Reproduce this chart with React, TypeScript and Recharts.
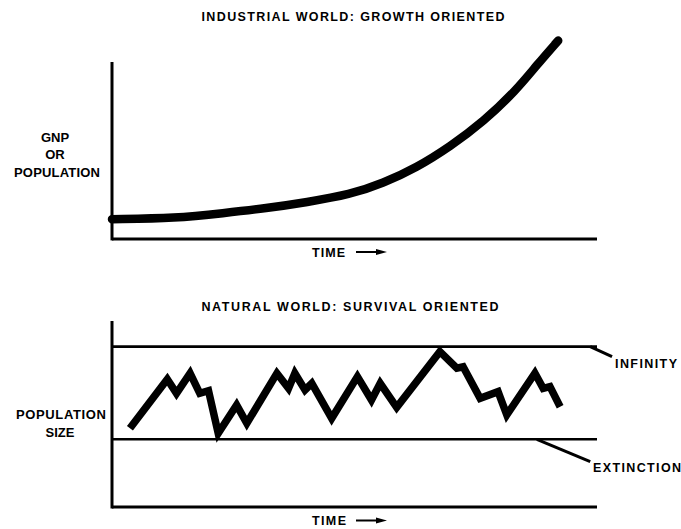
import React from 'react';
import { LineChart, Line, XAxis, YAxis, ReferenceLine } from 'recharts';

// ---- Top panel: industrial world (growth oriented) ----
const growthTime = [0, 13.3, 22.9, 31.9, 40.1, 49.1, 55.9, 62.8, 69.7, 76.6, 83.4, 87.6, 92.0];
const growthValue = [9.9, 10.4, 12.9, 15.4, 18.4, 22.2, 27.9, 35.7, 46.2, 58.7, 74.5, 87.0, 99.2];
const growthAxisTop = 88.5;

// ---- Bottom panel: natural world (survival oriented) ----
const naturalTime = [3.7, 11.4, 13.3, 16.1, 18.1, 19.9, 21.9, 25.7, 27.8, 34.0, 36.4, 37.7, 39.8, 41.2, 45.3, 50.6, 53.5, 55.3, 58.7, 67.6, 71.1, 72.4, 75.9, 79.6, 81.4, 87.2, 88.9, 90.3, 92.4];
const naturalValue = [42.3, 68.7, 61.1, 71.9, 61.1, 62.5, 39.6, 54.8, 45.0, 71.9, 63.8, 71.9, 62.9, 66.5, 47.7, 70.1, 57.5, 66.5, 53.6, 83.5, 74.6, 75.4, 58.4, 62.0, 49.5, 71.9, 63.8, 64.7, 53.9];
const infinityLevel = 86.2;
const extinctionLevel = 36.4;

// ---- Text labels ----
const topTitle = 'INDUSTRIAL WORLD: GROWTH ORIENTED';
const bottomTitle = 'NATURAL WORLD: SURVIVAL ORIENTED';
const topYLabel = ['GNP', 'OR', 'POPULATION'];
const bottomYLabel = ['POPULATION', 'SIZE'];
const xLabel = 'TIME';
const infinityLabel = 'INFINITY';
const extinctionLabel = 'EXTINCTION';

const growthData = growthTime.map((t, i) => ({ t, v: growthValue[i] }));
const naturalData = naturalTime.map((t, i) => ({ t, v: naturalValue[i] }));

const W = 681;
const H = 529;
const FONT = '"Liberation Sans", Arial, Helvetica, sans-serif';

const layer: React.CSSProperties = { position: 'absolute', left: 0, top: 0 };

function Arrow({ x, y }: { x: number; y: number }) {
  return (
    <g>
      <line x1={x} y1={y} x2={x + 24} y2={y} stroke="#000" strokeWidth={2} />
      <polygon points={`${x + 20},${y - 3} ${x + 31},${y} ${x + 20},${y + 3}`} fill="#000" />
    </g>
  );
}

export default function App() {
  const txt = { fontFamily: FONT, fontWeight: 700, fill: '#000' } as const;
  return (
    <div style={{ position: 'fixed', left: 0, top: 0, width: W, height: H, background: '#fff' }}>
      <div style={layer}>
        <LineChart width={W} height={H} data={growthData} margin={{ top: 39, right: 84, bottom: 290, left: 112 }}>
          <XAxis type="number" dataKey="t" domain={[0, 100]} hide />
          <YAxis type="number" domain={[0, 100]} hide />
          <ReferenceLine segment={[{ x: 0, y: 0 }, { x: 100, y: 0 }]} stroke="#000" strokeWidth={3} ifOverflow="visible" />
          <ReferenceLine segment={[{ x: 0, y: -0.7 }, { x: 0, y: growthAxisTop }]} stroke="#000" strokeWidth={3} ifOverflow="visible" />
          <Line type="basis" dataKey="v" stroke="#000" strokeWidth={8.5} strokeLinecap="round" dot={false}
            isAnimationActive={false} />
        </LineChart>
      </div>
      <div style={layer}>
        <LineChart width={W} height={H} data={naturalData} margin={{ top: 321, right: 84, bottom: 22, left: 112 }}>
          <XAxis type="number" dataKey="t" domain={[0, 100]} hide />
          <YAxis type="number" domain={[0, 100]} hide />
          <ReferenceLine segment={[{ x: 0, y: 0 }, { x: 100, y: 0 }]} stroke="#000" strokeWidth={3} ifOverflow="visible" />
          <ReferenceLine segment={[{ x: 0, y: -0.8 }, { x: 0, y: 100 }]} stroke="#000" strokeWidth={3} ifOverflow="visible" />
          <ReferenceLine y={infinityLevel} stroke="#000" strokeWidth={2.6} />
          <ReferenceLine y={extinctionLevel} stroke="#000" strokeWidth={2.6} />
          <ReferenceLine segment={[{ x: 98.6, y: infinityLevel }, { x: 103.1, y: 80.8 }]} stroke="#000"
            strokeWidth={3} ifOverflow="visible" />
          <ReferenceLine segment={[{ x: 87.6, y: extinctionLevel }, { x: 98.6, y: 24.4 }]} stroke="#000"
            strokeWidth={3} ifOverflow="visible" />
          <Line type="linear" dataKey="v" stroke="#000" strokeWidth={7.5} strokeLinejoin="miter" dot={false}
            isAnimationActive={false} />
        </LineChart>
      </div>
      <svg width={W} height={H} style={{ ...layer, pointerEvents: 'none' }}>
        <text x={353} y={21} textAnchor="middle" fontSize={12.5} textLength={303} lengthAdjust="spacing" {...txt}>{topTitle}</text>
        <text x={55} y={141.5} textAnchor="middle" fontSize={13} {...txt}>{topYLabel[0]}</text>
        <text x={55} y={159} textAnchor="middle" fontSize={13} {...txt}>{topYLabel[1]}</text>
        <text x={57} y={176.5} textAnchor="middle" fontSize={13} textLength={86} lengthAdjust="spacing" {...txt}>{topYLabel[2]}</text>
        <text x={328.5} y={256.5} textAnchor="middle" fontSize={12.5} textLength={33} lengthAdjust="spacing" {...txt}>{xLabel}</text>
        <Arrow x={356} y={252} />

        <text x={350} y={310.5} textAnchor="middle" fontSize={12.5} textLength={297} lengthAdjust="spacing" {...txt}>{bottomTitle}</text>
        <text x={61} y={418.5} textAnchor="middle" fontSize={13} textLength={90} lengthAdjust="spacing" {...txt}>{bottomYLabel[0]}</text>
        <text x={60} y={436.5} textAnchor="middle" fontSize={13} {...txt}>{bottomYLabel[1]}</text>
        <text x={646} y={367.5} textAnchor="middle" fontSize={12.5} textLength={62} lengthAdjust="spacing" {...txt}>{infinityLabel}</text>
        <text x={637} y={471.5} textAnchor="middle" fontSize={12.5} textLength={88} lengthAdjust="spacing" {...txt}>{extinctionLabel}</text>
        <text x={329} y={525} textAnchor="middle" fontSize={12.5} textLength={34} lengthAdjust="spacing" {...txt}>{xLabel}</text>
        <Arrow x={356} y={520.5} />
      </svg>
    </div>
  );
}
